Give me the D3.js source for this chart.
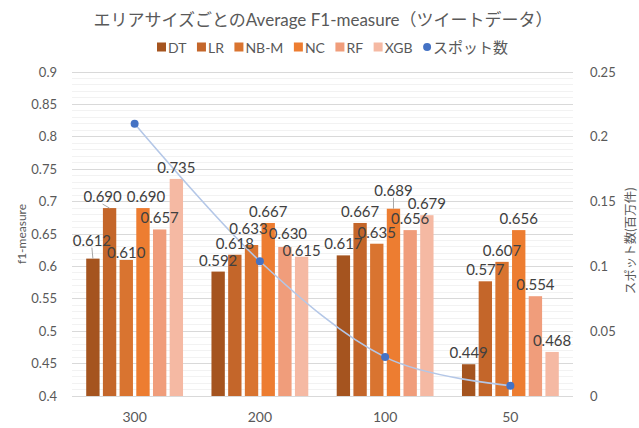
<!DOCTYPE html>
<html>
<head>
<meta charset="utf-8">
<script src="https://cdn.jsdelivr.net/npm/d3@7"></script>
<style>
  html, body { margin: 0; padding: 0; background: #fff; }
  svg { display: block; }
  text { font-family: Lato, "Noto Sans CJK JP", sans-serif; }
</style>
</head>
<body>
<svg id="chart" width="639" height="428"></svg>
<script>
// ---------- data ----------
const categories = ["300", "200", "100", "50"];
const seriesNames = ["DT", "LR", "NB-M", "NC", "RF", "XGB"];
const DT  = [0.612, 0.592, 0.617, 0.449];
const LR  = [0.690, 0.618, 0.667, 0.577];
const NBM = [0.610, 0.633, 0.635, 0.607];
const NC  = [0.690, 0.667, 0.689, 0.656];
const RF  = [0.657, 0.630, 0.656, 0.554];
const XGB = [0.735, 0.615, 0.679, 0.468];
const spots = [0.21, 0.104, 0.03, 0.008];
const lineName = "スポット数";
const leftTicks = [0.4, 0.45, 0.5, 0.55, 0.6, 0.65, 0.7, 0.75, 0.8, 0.85, 0.9];
const rightTicks = [0, 0.05, 0.1, 0.15, 0.2, 0.25];
const title = "エリアサイズごとのAverage F1-measure（ツイートデータ）";
const leftTitle = "f1-measure";
const rightTitle = "スポット数(百万件)";

// ---------- styling / layout ----------
const seriesValues = [DT, LR, NBM, NC, RF, XGB];
const colors = ["#a5541f", "#c4662a", "#d97430", "#ed7d31", "#f09d7b", "#f5b9a3"];
// label nudges (dx, dy) per category/series to mimic auto-positioned labels
const labelNudge = [
  [[-1, -7], [-7, 0], [0, 4], [3, 0], [0, 0], [0, 0]],
  [[0, 0], [0, 0], [-3, -5], [0, 0], [3, -2], [0, 5]],
  [[0, 0], [0, 0], [0, 0], [0, -7], [0, 0], [0, 0]],
  [[0, 0], [0, 0], [0, 0], [0, 0], [0, 0], [0, 0]]
];

const plot = { left: 72, right: 573, top: 72, bottom: 396 };
const svg = d3.select("#chart");

const x0 = d3.scaleBand().domain(categories).range([plot.left, plot.right])
  .paddingInner(0.227).paddingOuter(0.1135);
const x1 = d3.scaleBand().domain(seriesNames).range([0, x0.bandwidth()]).paddingInner(0.2);
const yL = d3.scaleLinear().domain([0.4, 0.9]).range([plot.bottom, plot.top]);
const yR = d3.scaleLinear().domain([0, 0.25]).range([plot.bottom, plot.top]);

// minor gridlines
const minor = d3.range(40, 91).map(v => v / 100).filter(v => Math.round(v * 100) % 5 !== 0);
svg.append("g").selectAll("line").data(minor).join("line")
  .attr("x1", plot.left).attr("x2", plot.right)
  .attr("y1", d => yL(d)).attr("y2", d => yL(d))
  .attr("stroke", "#f2f2f2").attr("stroke-width", 1).attr("shape-rendering", "crispEdges");
// major gridlines
svg.append("g").selectAll("line").data(leftTicks).join("line")
  .attr("x1", plot.left).attr("x2", plot.right)
  .attr("y1", d => yL(d)).attr("y2", d => yL(d))
  .attr("stroke", "#d9d9d9").attr("stroke-width", 1).attr("shape-rendering", "crispEdges");

// axes
const fmt = d => String(+d.toFixed(2));
const axL = svg.append("g").attr("transform", `translate(${plot.left},0)`)
  .call(d3.axisLeft(yL).tickValues(leftTicks).tickFormat(fmt).tickSize(0).tickPadding(15));
const axR = svg.append("g").attr("transform", `translate(${plot.right},0)`)
  .call(d3.axisRight(yR).tickValues(rightTicks).tickFormat(fmt).tickSize(0).tickPadding(17));
const axB = svg.append("g").attr("transform", `translate(0,${plot.bottom})`)
  .call(d3.axisBottom(x0).tickSize(0).tickPadding(16));
[axL, axR, axB].forEach(a => {
  a.select(".domain").remove();
  a.selectAll("text").attr("fill", "#595959").style("font-family", "Lato, sans-serif");
});
axL.selectAll("text").style("font-size", "13px");
axR.selectAll("text").style("font-size", "13px");
axB.selectAll("text").style("font-size", "14px");

// bars
const groups = svg.append("g").selectAll("g").data(categories).join("g")
  .attr("transform", d => `translate(${x0(d)},0)`);
groups.selectAll("rect")
  .data((c, ci) => seriesNames.map((s, si) => ({ s, si, ci, v: seriesValues[si][ci] })))
  .join("rect")
  .attr("x", d => x1(d.s))
  .attr("width", x1.bandwidth())
  .attr("y", d => yL(d.v))
  .attr("height", d => plot.bottom - yL(d.v))
  .attr("fill", d => colors[d.si]);

// baseline
svg.append("line").attr("x1", plot.left).attr("x2", plot.right)
  .attr("y1", plot.bottom).attr("y2", plot.bottom)
  .attr("stroke", "#d9d9d9").attr("stroke-width", 1).attr("shape-rendering", "crispEdges");

// spot line
const pts = categories.map((c, i) => [x0(c) + x0.bandwidth() / 2, yR(spots[i])]);
svg.append("path")
  .attr("d", d3.line().curve(d3.curveCatmullRom.alpha(0))(pts))
  .attr("fill", "none").attr("stroke", "#b4c7e7").attr("stroke-width", 1.6);
svg.append("g").selectAll("circle").data(categories).join("circle")
  .attr("cx", c => x0(c) + x0.bandwidth() / 2)
  .attr("cy", (c, i) => yR(spots[i]))
  .attr("r", 4).attr("fill", "#4472c4");

// data labels
const labelData = [];
categories.forEach((c, ci) => seriesNames.forEach((s, si) => {
  const v = seriesValues[si][ci];
  const cx = x0(c) + x1(s) + x1.bandwidth() / 2;
  const top = yL(v);
  const [dx, dy] = labelNudge[ci][si];
  labelData.push({ v, cx, top, lx: cx + dx, ly: top - 12 + dy, dx, dy });
}));
// leader lines
svg.append("g").selectAll("line")
  .data(labelData.filter(d => Math.abs(d.dx) >= 6 || Math.abs(d.dy) >= 6))
  .join("line")
  .attr("x1", d => d.lx).attr("y1", d => d.ly + 8)
  .attr("x2", d => d.cx).attr("y2", d => d.top)
  .attr("stroke", "#a6a6a6").attr("stroke-width", 1);
svg.append("g").selectAll("text").data(labelData).join("text")
  .attr("x", d => d.lx).attr("y", d => d.ly)
  .attr("text-anchor", "middle").attr("dominant-baseline", "central")
  .attr("fill", "#404040").style("font-size", "15px")
  .text(d => d.v.toFixed(3));

// title
svg.append("text").attr("x", 323).attr("y", 19)
  .attr("text-anchor", "middle").attr("dominant-baseline", "central")
  .attr("fill", "#595959").style("font-size", "17px")
  .text(title);

// axis titles
svg.append("text").attr("transform", `translate(21,${(plot.top + plot.bottom) / 2}) rotate(-90)`)
  .attr("text-anchor", "middle").attr("dominant-baseline", "central")
  .attr("fill", "#595959").style("font-size", "12px").text(leftTitle);
svg.append("text").attr("transform", `translate(630,241) rotate(-90)`)
  .attr("text-anchor", "middle").attr("dominant-baseline", "central")
  .attr("fill", "#595959").style("font-size", "12.5px").text(rightTitle);

// legend
const legend = svg.append("g");
let lx = 157;
const ly = 47;
seriesNames.forEach((s, i) => {
  legend.append("rect").attr("x", lx).attr("y", ly - 4.5).attr("width", 9).attr("height", 9)
    .attr("fill", colors[i]);
  const t = legend.append("text").attr("x", lx + 11).attr("y", ly)
    .attr("dominant-baseline", "central").attr("fill", "#595959")
    .style("font-size", "14px").text(s);
  lx = lx + 11 + t.node().getComputedTextLength() + 10.5;
});
legend.append("circle").attr("cx", lx + 4).attr("cy", ly).attr("r", 4).attr("fill", "#4472c4");
legend.append("text").attr("x", lx + 10).attr("y", ly)
  .attr("dominant-baseline", "central").attr("fill", "#595959")
  .style("font-size", "15px").text(lineName);
</script>
</body>
</html>
